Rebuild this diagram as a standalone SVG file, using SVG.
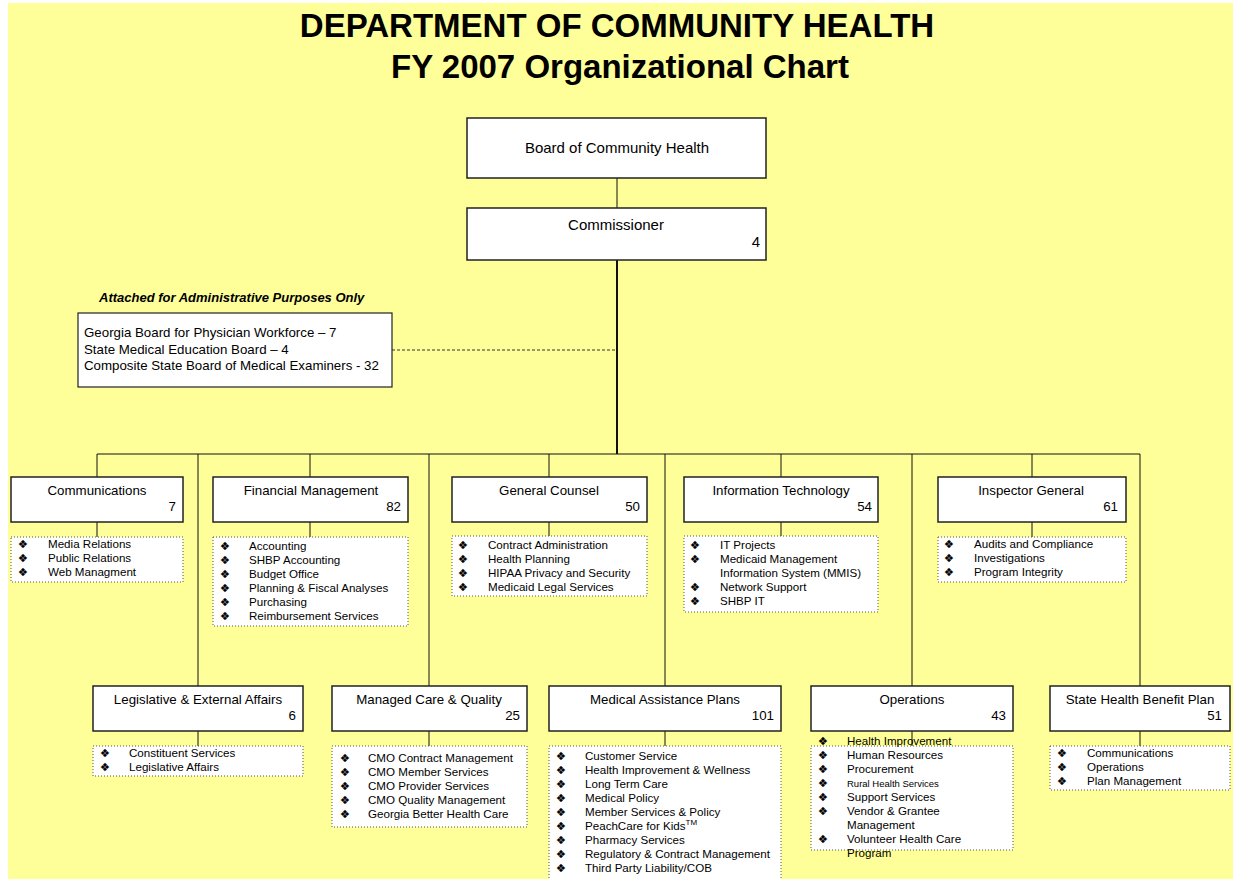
<svg xmlns="http://www.w3.org/2000/svg" width="1236" height="879" viewBox="0 0 1236 879">
<style>
text{font-family:"Liberation Sans",Arial,sans-serif;fill:#000}
.title{font-size:33px;font-weight:bold;text-anchor:middle}
.box{fill:#fff;stroke:#222;stroke-width:1.5}
.list{fill:#fff;stroke:#555;stroke-width:1;stroke-dasharray:1 2}
.hd{font-size:13.3px;text-anchor:middle}
.num{font-size:13.3px;text-anchor:end}
.big{font-size:15px;text-anchor:middle}
.it{font-size:11.6px}
.bl{font-family:"DejaVu Sans","DejaVu Sans Mono",sans-serif;font-size:11px;text-anchor:middle;fill:#000;stroke:#000;stroke-width:0.25}
.ln{stroke:#111;stroke-width:1;fill:none}
</style>
<rect x="0" y="0" width="1236" height="879" fill="#fff"/>
<rect x="8" y="3" width="1225" height="876" fill="#ffff99"/>
<text class="title" x="617" y="37">DEPARTMENT OF COMMUNITY HEALTH</text>
<text class="title" x="620" y="78">FY 2007 Organizational Chart</text>

<g id="connectors">
<line class="ln" x1="617" y1="178" x2="617" y2="208"/>
<line class="ln" x1="617" y1="260" x2="617" y2="454" style="stroke-width:2"/>
<line class="ln" x1="392" y1="350" x2="616" y2="350" style="stroke-dasharray:3 2;stroke:#333"/>
<line class="ln" x1="97" y1="454" x2="1140" y2="454"/>
<path class="ln" d="M97 454V477M310 454V477M549 454V477M781 454V477M1032 454V477"/>
<path class="ln" d="M198 454V686M429 454V686M665 454V686M912 454V686M1140 454V686"/>
<path class="ln" d="M97 522V537M310 522V537M549 522V536M781 522V536M1032 522V537"/>
<path class="ln" d="M198 731V746M429 731V746M665 731V746M912 731V746M1140 731V746"/>
</g>

<g id="board">
<rect class="box" x="467" y="118" width="299" height="60"/>
<text class="big" x="617" y="153">Board of Community Health</text>
</g>
<g id="commissioner">
<rect class="box" x="467" y="208" width="299" height="52"/>
<text class="big" x="616" y="230">Commissioner</text>
<text class="num" x="760" y="247" style="font-size:15px">4</text>
</g>

<g id="attached">
<text x="99" y="302" style="font-size:13px;font-weight:bold;font-style:italic">Attached for Administrative Purposes Only</text>
<rect class="box" x="78" y="313" width="314" height="74" style="stroke-width:1.2"/>
<text x="84" y="337" style="font-size:13.3px">Georgia Board for Physician Workforce – 7</text>
<text x="84" y="354" style="font-size:13.3px">State Medical Education Board – 4</text>
<text x="84" y="370" style="font-size:13.3px">Composite State Board of Medical Examiners - 32</text>
</g>

<g id="communications">
<rect class="box" x="11" y="477" width="172" height="45"/>
<text class="hd" x="97" y="495">Communications</text>
<text class="num" x="176" y="511">7</text>
<rect class="list" x="11" y="537" width="172" height="45"/>
<text class="bl" x="23" y="548">❖</text><text class="it" x="48" y="548">Media Relations</text>
<text class="bl" x="23" y="562">❖</text><text class="it" x="48" y="562">Public Relations</text>
<text class="bl" x="23" y="576">❖</text><text class="it" x="48" y="576">Web Managment</text>
</g>

<g id="financial">
<rect class="box" x="213" y="477" width="195" height="45"/>
<text class="hd" x="311" y="495">Financial Management</text>
<text class="num" x="401" y="511">82</text>
<rect class="list" x="213" y="537" width="195" height="89"/>
<text class="bl" x="225" y="550">❖</text><text class="it" x="249" y="550">Accounting</text>
<text class="bl" x="225" y="564">❖</text><text class="it" x="249" y="564">SHBP Accounting</text>
<text class="bl" x="225" y="578">❖</text><text class="it" x="249" y="578">Budget Office</text>
<text class="bl" x="225" y="592">❖</text><text class="it" x="249" y="592">Planning &amp; Fiscal Analyses</text>
<text class="bl" x="225" y="606">❖</text><text class="it" x="249" y="606">Purchasing</text>
<text class="bl" x="225" y="620">❖</text><text class="it" x="249" y="620">Reimbursement Services</text>
</g>

<g id="general-counsel">
<rect class="box" x="452" y="477" width="195" height="45"/>
<text class="hd" x="549" y="495">General Counsel</text>
<text class="num" x="640" y="511">50</text>
<rect class="list" x="452" y="536" width="195" height="60"/>
<text class="bl" x="463" y="549">❖</text><text class="it" x="488" y="549">Contract Administration</text>
<text class="bl" x="463" y="563">❖</text><text class="it" x="488" y="563">Health Planning</text>
<text class="bl" x="463" y="577">❖</text><text class="it" x="488" y="577">HIPAA Privacy and Security</text>
<text class="bl" x="463" y="591">❖</text><text class="it" x="488" y="591">Medicaid Legal Services</text>
</g>

<g id="information-technology">
<rect class="box" x="684" y="477" width="194" height="45"/>
<text class="hd" x="781" y="495">Information Technology</text>
<text class="num" x="872" y="511">54</text>
<rect class="list" x="684" y="536" width="194" height="76"/>
<text class="bl" x="695" y="549">❖</text><text class="it" x="720" y="549">IT Projects</text>
<text class="bl" x="695" y="563">❖</text><text class="it" x="720" y="563">Medicaid Management</text>
<text class="it" x="720" y="577">Information System (MMIS)</text>
<text class="bl" x="695" y="591">❖</text><text class="it" x="720" y="591">Network Support</text>
<text class="bl" x="695" y="605">❖</text><text class="it" x="720" y="605">SHBP IT</text>
</g>

<g id="inspector-general">
<rect class="box" x="938" y="477" width="188" height="45"/>
<text class="hd" x="1031" y="495">Inspector General</text>
<text class="num" x="1118" y="511">61</text>
<rect class="list" x="938" y="537" width="188" height="45"/>
<text class="bl" x="949" y="548">❖</text><text class="it" x="974" y="548">Audits and Compliance</text>
<text class="bl" x="949" y="562">❖</text><text class="it" x="974" y="562">Investigations</text>
<text class="bl" x="949" y="576">❖</text><text class="it" x="974" y="576">Program Integrity</text>
</g>

<g id="legislative">
<rect class="box" x="93" y="686" width="210" height="45"/>
<text class="hd" x="198" y="704">Legislative &amp; External Affairs</text>
<text class="num" x="296" y="720">6</text>
<rect class="list" x="93" y="746" width="210" height="30"/>
<text class="bl" x="105" y="757">❖</text><text class="it" x="129" y="757">Constituent Services</text>
<text class="bl" x="105" y="771">❖</text><text class="it" x="129" y="771">Legislative Affairs</text>
</g>

<g id="managed-care">
<rect class="box" x="332" y="686" width="195" height="45"/>
<text class="hd" x="429" y="704">Managed Care &amp; Quality</text>
<text class="num" x="520" y="720">25</text>
<rect class="list" x="332" y="746" width="195" height="81"/>
<text class="bl" x="345" y="762">❖</text><text class="it" x="368" y="762">CMO Contract Management</text>
<text class="bl" x="345" y="776">❖</text><text class="it" x="368" y="776">CMO Member Services</text>
<text class="bl" x="345" y="790">❖</text><text class="it" x="368" y="790">CMO Provider Services</text>
<text class="bl" x="345" y="804">❖</text><text class="it" x="368" y="804">CMO Quality Management</text>
<text class="bl" x="345" y="818">❖</text><text class="it" x="368" y="818">Georgia Better Health Care</text>
</g>

<g id="medical-assistance">
<rect class="box" x="549" y="686" width="232" height="45"/>
<text class="hd" x="665" y="704">Medical Assistance Plans</text>
<text class="num" x="774" y="720">101</text>
<rect class="list" x="549" y="746" width="232" height="140"/>
<text class="bl" x="561" y="760">❖</text><text class="it" x="585" y="760">Customer Service</text>
<text class="bl" x="561" y="774">❖</text><text class="it" x="585" y="774">Health Improvement &amp; Wellness</text>
<text class="bl" x="561" y="788">❖</text><text class="it" x="585" y="788">Long Term Care</text>
<text class="bl" x="561" y="802">❖</text><text class="it" x="585" y="802">Medical Policy</text>
<text class="bl" x="561" y="816">❖</text><text class="it" x="585" y="816">Member Services &amp; Policy</text>
<text class="bl" x="561" y="830">❖</text><text class="it" x="585" y="830">PeachCare for Kids<tspan dy="-5" style="font-size:8px">TM</tspan></text>
<text class="bl" x="561" y="844">❖</text><text class="it" x="585" y="844">Pharmacy Services</text>
<text class="bl" x="561" y="858">❖</text><text class="it" x="585" y="858">Regulatory &amp; Contract Management</text>
<text class="bl" x="561" y="872">❖</text><text class="it" x="585" y="872">Third Party Liability/COB</text>
</g>

<g id="operations">
<rect class="box" x="811" y="686" width="202" height="45"/>
<text class="hd" x="912" y="704">Operations</text>
<text class="num" x="1006" y="720">43</text>
<rect class="list" x="811" y="746" width="202" height="104"/>
<text class="bl" x="823" y="745">❖</text><text class="it" x="847" y="745">Health Improvement</text>
<text class="bl" x="823" y="759">❖</text><text class="it" x="847" y="759">Human Resources</text>
<text class="bl" x="823" y="773">❖</text><text class="it" x="847" y="773">Procurement</text>
<text class="bl" x="823" y="787">❖</text><text class="it" x="847" y="787" style="font-size:9.5px">Rural Health Services</text>
<text class="bl" x="823" y="801">❖</text><text class="it" x="847" y="801">Support Services</text>
<text class="bl" x="823" y="815">❖</text><text class="it" x="847" y="815">Vendor &amp; Grantee</text>
<text class="it" x="847" y="829">Management</text>
<text class="bl" x="823" y="843">❖</text><text class="it" x="847" y="843">Volunteer Health Care</text>
<text class="it" x="847" y="857">Program</text>
</g>

<g id="shbp">
<rect class="box" x="1050" y="686" width="180" height="45"/>
<text class="hd" x="1140" y="704">State Health Benefit Plan</text>
<text class="num" x="1222" y="720">51</text>
<rect class="list" x="1050" y="746" width="180" height="44"/>
<text class="bl" x="1062" y="757">❖</text><text class="it" x="1087" y="757">Communications</text>
<text class="bl" x="1062" y="771">❖</text><text class="it" x="1087" y="771">Operations</text>
<text class="bl" x="1062" y="785">❖</text><text class="it" x="1087" y="785">Plan Management</text>
</g>
</svg>
